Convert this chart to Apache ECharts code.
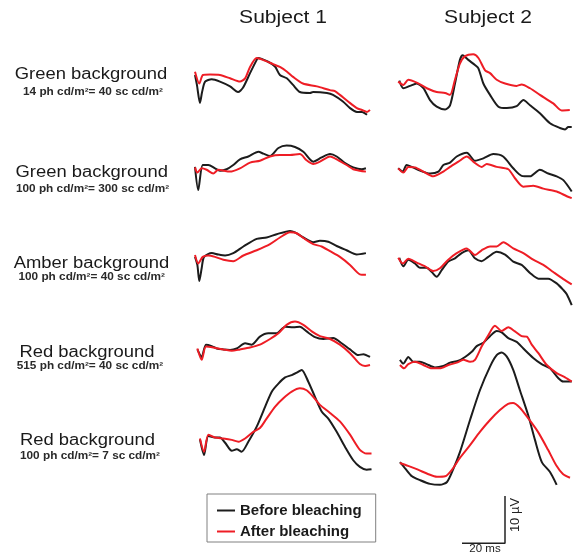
<!DOCTYPE html>
<html><head><meta charset="utf-8">
<script src="https://cdn.jsdelivr.net/npm/echarts@6/dist/echarts.min.js"></script>
<style>html,body{margin:0;padding:0;background:#fff}#c{width:577px;height:553px}</style>
</head><body><div id="c"></div>
<script>
// ---------- text ----------
const subjects = ['Subject 1', 'Subject 2'];
const rowTitles = ['Green background', 'Green background', 'Amber background', 'Red background', 'Red background'];
const rowSubtitles = ['14 ph cd/m\u00b2= 40 sc cd/m\u00b2', '100 ph cd/m\u00b2= 300 sc cd/m\u00b2', '100 ph cd/m\u00b2= 40 sc cd/m\u00b2', '515 ph cd/m\u00b2= 40 sc cd/m\u00b2', '100 ph cd/m\u00b2= 7 sc cd/m\u00b2'];
const seriesNames = ['Before bleaching', 'After bleaching'];
const scaleBarMs = [0, 20, 20];
const scaleBarUv = [0, 0, 10];
const scaleBarLabels = ['20 ms', '10 \u00b5V'];

// ---------- traces: time (ms) and amplitude (uV) ----------
// Subject 1, row 1
const s1r1BeforeT = [0,0.9,2.3,3.3,4.7,7.8,11.6,16.3,20,22.3,25.6,28.7,29.3,34,37.2,39.5,42.7,45.6,48.8,53.5,54.9,61.4,64.2,68.8,72.1,75.3,77.7,80];
const s1r1Before  = [0,-2.1,-5.9,-3.6,-1.4,-0.9,-1.4,-2.4,-3.6,-2.7,0.4,3.2,3.6,2.8,1.8,0,-0.7,-2.1,-3.6,-3.8,-3.6,-3.8,-4.2,-5.6,-7.0,-7.8,-7.8,-8.4];
const s1r1AfterT  = [0,2.0,3.7,7.0,11.6,16.3,20.9,23.3,25.6,28.7,31.6,36.3,39.5,42.8,45.6,50.2,56.7,62.8,65.1,67.4,71.2,75.3,77.7,80,81.4];
const s1r1After   = [0.7,-1.8,0,0.1,0,-0.7,-1.4,-0.7,1.7,3.6,3.2,2.3,1.7,0.7,-0.4,-1.8,-2.4,-3.2,-3.4,-4.2,-5.6,-7.0,-7.4,-7.8,-7.4];
// Subject 2, row 1
const s2r1BeforeT = [0.6,2.5,5.6,8.7,11.8,14.9,18,21.9,24.2,26.5,28.8,30.1,32.7,35.8,37.4,39.7,42.8,46.7,50.6,55.2,58.3,61.4,66,70.7,75.3,77.7,79.2,80.8];
const s2r1Before  = [-1.2,-2.8,-2.3,-1.8,-2.8,-5.3,-6.7,-7.3,-6.4,-1.8,3.2,4.2,3.2,2.1,1.4,-1.8,-4.2,-6.7,-7.0,-6.6,-5.3,-6.4,-8.1,-10.2,-11.2,-11.5,-11.0,-11.0];
const s2r1AfterT  = [0.1,2.5,4.8,8.7,13.4,18,21.9,24.2,26.5,28.8,31.2,35,37.4,40.5,42.8,45.9,49.8,55.2,57.5,61.4,66,72.2,76.1,79.9];
const s2r1After   = [-1.4,-2.1,-1.0,-1.6,-2.8,-3.6,-3.8,-4.2,-1.0,2.4,4.0,4.4,3.6,1.0,0.4,-1.0,-1.8,-2.3,-2.0,-2.8,-4.2,-6.0,-7.5,-7.4];
// Subject 1, row 2
const s1r2BeforeT = [0,1.5,3.6,6.2,9.3,11.6,14.7,17.8,20.9,24.8,29.5,31.8,34.9,38.8,42.6,46.5,50.4,55,58.9,62.8,65.9,69.8,73.6,77.5,79.5];
const s1r2Before  = [-0.4,-5.3,0,0,-0.7,-1.2,-0.9,0,1.2,1.8,2.8,2.4,1.9,3.6,4.1,3.8,2.8,0.7,1.6,2.3,1.8,0.4,-0.5,-0.9,-0.7];
const s1r2AfterT  = [0,1.1,3.1,5.4,8.5,10.8,16.3,20.9,25.6,30.2,34.9,39.5,44.2,48.8,51.9,55,58.1,62.8,66.7,70.5,73.6,76.7,79.5];
const s1r2After   = [-0.5,-1.6,-0.7,-1.0,-1.8,-1.0,-1.4,-0.7,0.5,0.9,1.8,2.1,2.1,2.3,1.0,0.2,0.7,1.8,1.0,0,-0.9,-1.2,-1.4];
// Subject 2, row 2
const s2r2BeforeT = [0.1,2.2,4,6.4,10.2,14.9,18.8,21.1,24.2,27.3,32,35.8,39.7,44.3,48.9,53.6,57.5,61.4,66,69.9,73.8,76.9,80.8];
const s2r2Before  = [-0.7,-1.4,0,-0.4,-1.2,-1.8,-1.4,0,0.5,1.8,2.6,0.9,1.4,2.3,1.8,-0.7,-2.3,-2.4,-1.0,-1.8,-2.4,-3.2,-5.6];
const s2r2AfterT  = [0.1,2.5,4.8,7.9,11.8,16.4,21.1,24.2,28.1,32,35,38.9,41.3,45.9,51.3,54.4,58.3,62.9,67.6,73.8,78.5,80.8];
const s2r2After   = [-0.7,-1.6,-0.4,-0.5,-1.4,-2.4,-1.4,-0.4,0.7,1.8,0.7,-0.4,0.2,-0.4,-0.9,-2.8,-4.6,-4.4,-5.0,-5.6,-6.6,-7.0];
// Subject 1, row 3
const s1r3BeforeT = [0,1.1,2,3.1,4.2,7.8,10.8,14,17.8,22.5,28.7,33.3,38,44.2,46.5,50.4,55,58.1,62,65.9,70.5,75.2,79.5];
const s1r3Before  = [-0.4,-2.1,-5.5,-2.8,-0.4,0.4,0.1,-0.1,0.4,1.8,3.4,3.7,4.4,5.1,4.8,3.7,2.7,3.0,2.8,1.9,1.0,0.1,0.4];
const s1r3AfterT  = [0,1.5,3.6,6.2,9.3,13.2,17.8,22.5,28.7,34.9,39.5,44.2,47.3,50.4,55,58.9,62.8,67.4,72.1,76.7,79.5];
const s1r3After   = [0,-1.8,-0.4,-0.1,-0.4,-1.0,-1.3,-0.1,1.0,2.3,3.7,4.8,4.6,3.6,2.3,1.8,0.8,-0.4,-2.1,-4.1,-4.2];
// Subject 2, row 3
const s2r3BeforeT = [0.6,2.5,4.8,7.9,10.2,13.3,15.7,18,20.3,23.4,26.5,29.6,32.7,35.8,38.9,42,45.9,49.8,53.6,57.5,61.4,65.3,69.9,73.8,76.9,78.5,80.8];
const s2r3Before  = [-0.6,-2.4,-1.0,-1.8,-2.7,-2.7,-3.6,-4.6,-3.2,-1.4,-0.7,0.4,1.0,-0.7,-1.3,-0.4,0.7,0.1,-1.4,-2.1,-3.8,-5.0,-5.0,-6.0,-7.4,-8.3,-10.6];
const s2r3AfterT  = [0.1,2.2,4.8,8.7,12.6,16.4,19.5,23.4,27.3,31.9,35.8,38.9,42.8,45.9,49,53.6,58.3,62.9,67.6,72.2,76.9,80.8];
const s2r3After   = [-0.6,-1.8,-0.8,-1.6,-2.4,-3.4,-2.8,-1.0,0.4,1.4,0,1.0,1.8,1.8,2.7,1.4,0.4,-1.0,-2.1,-3.6,-5.1,-6.2];
// Subject 1, row 4
const s1r4BeforeT = [1.1,3.1,5.1,7.8,10.1,13.2,16.3,19.4,23.3,26.4,30.2,34.1,38,41.9,45.7,48.8,51.9,55.8,59.7,64.3,68.2,72.1,76,78.3,81.4];
const s1r4Before  = [-0.3,-1.9,0.7,0.4,-0.1,-0.3,-0.4,-0.1,1.0,0.7,2.4,3.1,3.1,4.5,4.4,4.5,3.5,2.3,1.9,2.1,1.0,-0.3,-1.5,-1.3,-1.9];
const s1r4AfterT  = [1.1,3.1,5.1,8.5,13.2,17.1,20.9,25.6,30.2,34.9,38.8,42.6,46.5,50.4,54.3,58.1,62.8,67.4,72.1,76.7,79.1,81.4];
const s1r4After   = [-0.1,-2.5,0.3,0.1,-0.3,-0.6,-0.3,0.1,0.7,1.9,3.1,4.9,5.6,4.9,3.5,2.5,1.9,0.7,-1.1,-3.4,-3.8,-3.6];
// Subject 2, row 4
const s2r4BeforeT = [0.9,2.5,4.8,7.1,10.2,13.3,17.2,21.1,24.2,28.1,31.2,34.3,36.6,39.7,42.8,45.9,48.2,51.3,55.2,58.3,62.9,66.8,70.7,74.6,76.9,80.8];
const s2r4Before  = [-2.5,-3.3,-1.9,-2.9,-2.9,-3.4,-4.1,-3.8,-3.1,-2.7,-1.9,-0.8,0.4,1.1,2.5,3.6,3.3,2.1,1.3,-0.1,-2.1,-3.4,-4.3,-6.4,-7.1,-7.1];
const s2r4AfterT  = [0.9,2.8,4.8,7.9,11.8,15.7,19.5,23.4,27.3,30.4,33.5,35.8,38.9,42,45.1,48.2,51.3,54.4,57.5,59.9,62.2,65.3,69.2,73.8,77.7,80.8];
const s2r4After   = [-3.6,-4.3,-3.4,-2.9,-3.6,-4.3,-4.3,-3.6,-3.1,-2.5,-2.9,-2.5,0.3,2.7,4.7,3.6,4.4,3.5,2.5,2.4,0.7,-1.1,-3.6,-5.3,-6.2,-7.1];
// Subject 1, row 5
const s1r5BeforeT = [2.3,4.2,6.2,9.3,11.6,14,17.1,19.4,21.7,24.8,28.7,32.6,35.7,38.8,41.9,45,47.3,49.6,52.7,55.8,58.9,62,65.9,69.8,73.6,76.7,79.8,82.1];
const s1r5Before  = [-0.3,-3.6,0.4,0.1,0.1,-1.0,-2.7,-2.4,-2.9,-0.8,2.4,6.6,9.8,11.5,12.8,13.3,13.8,14.4,11.9,8.7,5.6,4.1,1.3,-1.9,-4.7,-6.1,-6.7,-6.6];
const s1r5AfterT  = [2.3,4.2,6.2,9.3,13.2,17.1,20.2,23.3,27.1,30.2,33.3,37.2,41.1,45,48.8,51.9,55,58.1,62.8,67.4,72.1,76.7,79.8,82.1];
const s1r5After   = [-0.1,-2.9,0.7,0.1,-0.1,-0.4,-0.8,-0.1,1.3,2.1,4.1,6.6,8.4,9.8,10.5,10.1,8.7,7.0,5.3,3.5,0.7,-2.5,-3.3,-3.3];
// Subject 2, row 5
const s2r5BeforeT = [0.9,3.3,6.5,10.2,14.9,19.5,22.8,25.6,28.8,33.5,38.1,42.8,45.9,48.2,50.6,53.6,56.7,60.5,63.7,66.9,70.7,73.8];
const s2r5Before  = [-5.1,-6.4,-8.1,-8.9,-9.7,-9.9,-9.3,-6.7,-3.0,3.8,10.1,15.1,17.5,18.1,17.2,14.4,10.1,4.9,-0.4,-5.1,-7.2,-9.9];
const s2r5AfterT  = [0.9,4.7,9.3,13.9,18.1,21.9,25.1,28.8,33.5,38.1,42.8,47.4,51.2,53.5,56.7,60.5,65.1,69.8,73.5,76.7,80];
const s2r5After   = [-5.3,-5.9,-6.7,-7.6,-8.2,-8.1,-6.7,-4.2,-1.5,1.3,3.8,5.9,7.2,7.4,6.4,4.2,1.3,-2.5,-5.7,-7.6,-8.4];

// ---------- layout ----------
const PX_PER_MS = 2.15, PX_PER_UV = 4.73, T_MAX = 82;
const colLeft = [195, 398];
const rowZero = [75, 165, 255, 348, 438];
const rowRange = [[-15, 15], [-15, 15], [-15, 15], [-15, 15], [-15, 25]];
const titleX = [91, 91.7, 91.5, 87, 87.5], titleY = [75, 173, 264, 353, 441];
const subX = [93, 92.5, 91.7, 90, 90], subY = [92.5, 189, 277.5, 366.5, 456];
const BLACK = '#1c1c1c', RED = '#ee1d25', FONT = '"Liberation Sans", Arial, sans-serif';

const panels = [
  [[s1r1BeforeT, s1r1Before, s1r1AfterT, s1r1After], [s2r1BeforeT, s2r1Before, s2r1AfterT, s2r1After]],
  [[s1r2BeforeT, s1r2Before, s1r2AfterT, s1r2After], [s2r2BeforeT, s2r2Before, s2r2AfterT, s2r2After]],
  [[s1r3BeforeT, s1r3Before, s1r3AfterT, s1r3After], [s2r3BeforeT, s2r3Before, s2r3AfterT, s2r3After]],
  [[s1r4BeforeT, s1r4Before, s1r4AfterT, s1r4After], [s2r4BeforeT, s2r4Before, s2r4AfterT, s2r4After]],
  [[s1r5BeforeT, s1r5Before, s1r5AfterT, s1r5After], [s2r5BeforeT, s2r5Before, s2r5AfterT, s2r5After]]
];

const grid = [], xAxis = [], yAxis = [], series = [];
const zip = (t, v) => t.map((x, i) => [x, v[i]]);
panels.forEach((row, r) => {
  row.forEach((p, c) => {
    const gi = grid.length;
    const [yMin, yMax] = rowRange[r];
    grid.push({ left: colLeft[c], top: rowZero[r] - yMax * PX_PER_UV, width: T_MAX * PX_PER_MS, height: (yMax - yMin) * PX_PER_UV });
    xAxis.push({ gridIndex: gi, type: 'value', min: 0, max: T_MAX, show: false });
    yAxis.push({ gridIndex: gi, type: 'value', min: yMin, max: yMax, show: false });
    const common = { type: 'line', xAxisIndex: gi, yAxisIndex: gi, showSymbol: false, symbol: 'none', smooth: 0.25, clip: false, animation: false };
    series.push(Object.assign({}, common, { name: seriesNames[0], data: zip(p[0], p[1]), lineStyle: { color: BLACK, width: 2 }, itemStyle: { color: BLACK } }));
    series.push(Object.assign({}, common, { name: seriesNames[1], data: zip(p[2], p[3]), lineStyle: { color: RED, width: 2 }, itemStyle: { color: RED } }));
  });
});
// scale bar grid (same px/unit scale as panels)
{
  const gi = grid.length;
  grid.push({ left: 462, top: 543.3 - 10 * PX_PER_UV, width: 20 * PX_PER_MS, height: 10 * PX_PER_UV });
  xAxis.push({ gridIndex: gi, type: 'value', min: 0, max: 20, show: false });
  yAxis.push({ gridIndex: gi, type: 'value', min: 0, max: 10, show: false });
  series.push({ type: 'line', name: 'scale', xAxisIndex: gi, yAxisIndex: gi, showSymbol: false, symbol: 'none', clip: false, silent: true, animation: false,
    data: zip(scaleBarMs, scaleBarUv), lineStyle: { color: '#222', width: 1.5 } });
}

const graphic = [];
subjects.forEach((s, c) => graphic.push({ type: 'text', x: [283, 488][c], y: 18, scaleX: 1.17,
  style: { text: s, fontSize: 18, fontFamily: FONT, fill: '#1a1a1a', align: 'center', verticalAlign: 'middle', textAlign: 'center', textVerticalAlign: 'middle' } }));
rowTitles.forEach((t, r) => {
  graphic.push({ type: 'text', x: titleX[r], y: titleY[r], scaleX: 1.15,
    style: { text: t, fontSize: 16, fontFamily: FONT, fill: '#1a1a1a', align: 'center', verticalAlign: 'middle', textAlign: 'center', textVerticalAlign: 'middle' } });
  graphic.push({ type: 'text', x: subX[r], y: subY[r], scaleX: 1.18,
    style: { text: rowSubtitles[r], fontSize: 10, fontWeight: 'bold', fontFamily: FONT, fill: '#2a2a2a', align: 'center', verticalAlign: 'middle', textAlign: 'center', textVerticalAlign: 'middle' } });
});
graphic.push({ type: 'text', x: 485, y: 548.5,
  style: { text: scaleBarLabels[0], fontSize: 11.5, fontFamily: FONT, fill: '#222', align: 'center', verticalAlign: 'middle', textAlign: 'center', textVerticalAlign: 'middle' } });
graphic.push({ type: 'text', x: 515, y: 515, rotation: Math.PI / 2,
  style: { text: scaleBarLabels[1], fontSize: 13, fontFamily: FONT, fill: '#222', align: 'center', verticalAlign: 'middle', textAlign: 'center', textVerticalAlign: 'middle' } });

const chart = echarts.init(document.getElementById('c'), null, { renderer: 'canvas' });
chart.setOption({
  animation: false,
  backgroundColor: '#fff',
  grid, xAxis, yAxis, series, graphic,
  legend: {
    data: seriesNames, orient: 'vertical', left: 207, top: 494,
    padding: [9, 14, 3, 10], itemGap: 6, itemWidth: 18, itemHeight: 2, icon: 'rect',
    borderColor: '#808080', borderWidth: 1, selectedMode: false,
    textStyle: { fontSize: 15, fontWeight: 'bold', fontFamily: FONT, color: '#1a1a1a' }
  }
});
</script></body></html>
